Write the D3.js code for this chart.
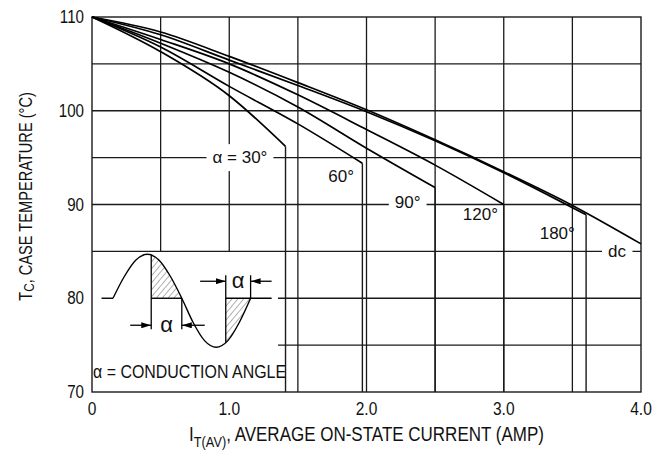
<!DOCTYPE html>
<html>
<head>
<meta charset="utf-8">
<script src="https://cdnjs.cloudflare.com/ajax/libs/d3/7.8.5/d3.min.js"></script>
<style>
  body { margin: 0; background: #fff; }
  text { font-family: "Liberation Sans", Arial, sans-serif; fill: #111; }
</style>
</head>
<body>
<div id="chart"></div>
<script>

// Curves: average on-state current (A) vs max case temperature (°C)
const current30  = [0, 0.5, 1.0, 1.41];
const temp30     = [110, 106.3, 101.6, 96.2];
const current60  = [0, 0.5, 1.0, 1.5, 1.97];
const temp60     = [110, 106.8, 102.6, 98.6, 94.4];
const current90  = [0, 0.5, 1.0, 1.5, 2.0, 2.5];
const temp90     = [110, 107.2, 104.1, 100.4, 96.0, 91.8];
const current120 = [0, 0.5, 1.0, 1.5, 2.0, 2.5, 3.0];
const temp120    = [110, 107.6, 105.0, 101.7, 98.0, 94.2, 90.0];
const current180 = [0, 0.5, 1.0, 1.5, 2.0, 2.5, 3.0, 3.6];
const temp180    = [110, 108.1, 105.4, 102.7, 99.9, 96.8, 93.4, 88.9];
const currentDc  = [0, 0.5, 1.0, 1.5, 2.0, 2.5, 3.0, 3.5, 4.0];
const tempDc     = [110, 108.4, 105.8, 103.0, 100.1, 96.9, 93.5, 89.9, 85.8];

// Curve labels, anchored in data units
const labelText    = ["α = 30°", "60°", "90°", "120°", "180°", "dc"];
const labelCurrent = [1.078, 1.815, 2.30, 2.83, 3.39, 3.825];
const labelTemp    = [95, 93.0, 90.2, 88.9, 86.95, 85];
const labelOnGrid  = [true, false, true, false, false, true];

// Axis ticks and grid
const xTicks = [0, 1, 2, 3, 4];
const xTickLabels = ["0", "1.0", "2.0", "3.0", "4.0"];
const yTicks = [70, 80, 90, 100, 110];
const xGrid = [0.5, 1.0, 1.5, 2.0, 2.5, 3.0, 3.5];
const yGrid = [75, 80, 85, 90, 95, 100, 105];

// Inset (waveform sketch) in phase degrees / relative amplitude
const wavePhase = [0, 30, 60, 90, 120, 150, 180, 210, 240, 270, 300, 330, 360];
const waveValue = [0, 0.5, 0.87, 1, 0.87, 0.5, 0, -0.5, -0.87, -1, -0.87, -0.5, 0];
const firing = [100, 295];        // where conduction starts in each half
const firingValue = [0.985, -0.906];
const insetRight = 1.355, insetTop = 85;

const curves = [
  {x: current30, y: temp30, drop: true},
  {x: current60, y: temp60, drop: true},
  {x: current90, y: temp90, drop: true},
  {x: current120, y: temp120, drop: true},
  {x: current180, y: temp180, drop: true},
  {x: currentDc, y: tempDc, drop: false}
];

const margin = {top: 17, right: 17, bottom: 61, left: 92},
    width = 658 - margin.left - margin.right,
    height = 453 - margin.top - margin.bottom;

const svg = d3.select("#chart")
  .append("svg")
    .attr("width", width + margin.left + margin.right)
    .attr("height", height + margin.top + margin.bottom)
  .append("g")
    .attr("transform", `translate(${margin.left}, ${margin.top})`);

const xScale = d3.scaleLinear().domain([0, 4]).range([0, width]);
const yScale = d3.scaleLinear().domain([70, 110]).range([height, 0]);

// the original uses a narrow typeface: squeeze text horizontally
function at(x, y, k) { return `translate(${x},${y}) scale(${k},1)`; }

const gridG = svg.append("g");
const maskG = svg.append("g");
const curveG = svg.append("g");
const labelG = svg.append("g");

// grid (the inset corner is left empty)
gridG.selectAll(".vgrid")
  .data(xGrid)
  .enter()
  .append("line")
    .attr("x1", d => xScale(d)).attr("x2", d => xScale(d))
    .attr("y1", yScale(110))
    .attr("y2", d => yScale(d < insetRight ? insetTop : 70))
    .attr("stroke", "#1a1a1a").attr("stroke-width", 1.3);

gridG.selectAll(".hgrid")
  .data(yGrid)
  .enter()
  .append("line")
    .attr("y1", d => yScale(d)).attr("y2", d => yScale(d))
    .attr("x1", d => xScale(d < insetTop ? insetRight : 0))
    .attr("x2", xScale(4))
    .attr("stroke", "#1a1a1a").attr("stroke-width", 1.3);

gridG.append("rect")
  .attr("width", width).attr("height", height)
  .attr("fill", "none").attr("stroke", "#1a1a1a").attr("stroke-width", 1.4);

// tick labels
svg.selectAll(".xlab")
  .data(xTicks)
  .enter()
  .append("text")
    .attr("transform", d => at(xScale(d), height + 23, 0.84))
    .attr("text-anchor", "middle")
    .style("font-size", "18.5px")
    .text((d, i) => xTickLabels[i]);

svg.selectAll(".ylab")
  .data(yTicks)
  .enter()
  .append("text")
    .attr("transform", d => at(-8, yScale(d), 0.82))
    .attr("text-anchor", "end")
    .attr("dominant-baseline", "central")
    .style("font-size", "18.5px")
    .text(d => d);

// curves with their vertical drop to the axis
const line = d3.line()
  .x(d => xScale(d[0]))
  .y(d => yScale(d[1]))
  .curve(d3.curveMonotoneX);

curves.forEach(function(c) {
  const pts = c.x.map((v, i) => [v, c.y[i]]);
  curveG.append("path")
    .datum(pts)
    .attr("d", line)
    .attr("fill", "none")
    .attr("stroke", "#000")
    .attr("stroke-width", 1.7);
  if (c.drop) {
    const last = pts[pts.length - 1];
    curveG.append("line")
      .attr("x1", xScale(last[0])).attr("x2", xScale(last[0]))
      .attr("y1", yScale(last[1])).attr("y2", yScale(70))
      .attr("stroke", "#1a1a1a").attr("stroke-width", 1.4);
  }
});

// curve labels, with the grid cut behind the ones that sit on it
labelText.forEach(function(t, i) {
  const lab = labelG.append("text")
    .attr("x", xScale(labelCurrent[i]))
    .attr("y", yScale(labelTemp[i]))
    .attr("text-anchor", "middle")
    .attr("dominant-baseline", "central")
    .style("font-size", "17px")
    .text(t);
  if (labelOnGrid[i]) {
    const bb = lab.node().getBBox();
    maskG.append("rect")
      .attr("x", bb.x - 6).attr("y", bb.y - 4)
      .attr("width", bb.width + 12).attr("height", bb.height + 8)
      .attr("fill", "#fff");
  }
});

// axis titles
const xTitle = svg.append("text")
  .attr("transform", at(width / 2, height + 49, 0.85))
  .attr("text-anchor", "middle")
  .style("font-size", "20px");
xTitle.append("tspan").text("I");
xTitle.append("tspan").attr("dy", 6).style("font-size", "15px").text("T(AV)");
xTitle.append("tspan").attr("dy", -6).text(", AVERAGE ON-STATE CURRENT (AMP)");

const yTitle = svg.append("text")
  .attr("transform", `translate(${-67}, ${height / 2 - 8}) rotate(-90) scale(0.79,1)`)
  .attr("text-anchor", "middle")
  .attr("dominant-baseline", "central")
  .style("font-size", "18.5px");
yTitle.append("tspan").text("T");
yTitle.append("tspan").attr("dy", 3).style("font-size", "15px").text("C");
yTitle.append("tspan").attr("dy", -3).text(", CASE TEMPERATURE (°C)");

// ---- inset: conduction angle sketch ----
const base = yScale(80);
const waveX = d3.scaleLinear().domain([0, 360]).range([21, 158.6]);
const waveY = d3.scaleLinear().domain([-1, 0, 1]).range([base + 49, base, base - 44]);

const inset = svg.append("g");

const defs = d3.select("svg").append("defs");
const hatch = defs.append("pattern")
  .attr("id", "hatch")
  .attr("patternUnits", "userSpaceOnUse")
  .attr("width", 4.5).attr("height", 4.5)
  .attr("patternTransform", "rotate(40)");
hatch.append("line")
  .attr("x1", 0).attr("y1", 0).attr("x2", 0).attr("y2", 4.5)
  .attr("stroke", "#555").attr("stroke-width", 0.9);

defs.append("marker")
  .attr("id", "arrow")
  .attr("viewBox", "0 0 10 6")
  .attr("refX", 10).attr("refY", 3)
  .attr("markerWidth", 10).attr("markerHeight", 6)
  .attr("markerUnits", "userSpaceOnUse")
  .attr("orient", "auto")
  .append("path")
    .attr("d", "M0,0L10,3L0,6Z")
    .attr("fill", "#000");

const wavePts = wavePhase.map((p, i) => [p, waveValue[i]]);

firing.forEach(function(f, k) {
  const end = k === 0 ? 180 : 360;
  defs.append("clipPath").attr("id", "cond" + k)
    .append("rect")
      .attr("x", waveX(f)).attr("y", base - 60)
      .attr("width", waveX(end) - waveX(f)).attr("height", 120);
  inset.append("path")
    .datum(wavePts)
    .attr("clip-path", `url(#cond${k})`)
    .attr("d", d3.area()
      .x(d => waveX(d[0]))
      .y0(base)
      .y1(d => waveY(d[1]))
      .curve(d3.curveMonotoneX))
    .attr("fill", "url(#hatch)");
});

inset.append("path")
  .datum(wavePts)
  .attr("d", d3.line().x(d => waveX(d[0])).y(d => waveY(d[1])).curve(d3.curveMonotoneX))
  .attr("fill", "none").attr("stroke", "#000").attr("stroke-width", 1.4);

// baseline pieces
const baseSegs = [[-30, 0], [firing[0], 180], [firing[1], 415]];
baseSegs.forEach(s => inset.append("line")
  .attr("x1", waveX(s[0])).attr("x2", waveX(s[1]))
  .attr("y1", base).attr("y2", base)
  .attr("stroke", "#000").attr("stroke-width", 1.4));

// extension lines at the conduction edges
const ext = [
  [firing[0], waveY(firingValue[0]), base + 31],
  [180, base, base + 31],
  [firing[1], waveY(firingValue[1]), base - 23],
  [360, base, base - 23]
];
ext.forEach(e => inset.append("line")
  .attr("x1", waveX(e[0])).attr("x2", waveX(e[0]))
  .attr("y1", e[1]).attr("y2", e[2])
  .attr("stroke", "#000").attr("stroke-width", 1.3));

// dimension arrows
const arrows = [
  [45, firing[0], base + 27], [240, 180, base + 27],
  [228, firing[1], base - 17], [415, 360, base - 17]
];
arrows.forEach(a => inset.append("line")
  .attr("x1", waveX(a[0])).attr("x2", waveX(a[1]))
  .attr("y1", a[2]).attr("y2", a[2])
  .attr("stroke", "#000").attr("stroke-width", 1.3)
  .attr("marker-end", "url(#arrow)"));

inset.append("text")
  .attr("x", (waveX(firing[0]) + waveX(180)) / 2).attr("y", base + 26)
  .attr("text-anchor", "middle").attr("dominant-baseline", "central")
  .style("font-size", "22px").text("α");
inset.append("text")
  .attr("x", (waveX(firing[1]) + waveX(360)) / 2).attr("y", base - 18)
  .attr("text-anchor", "middle").attr("dominant-baseline", "central")
  .style("font-size", "22px").text("α");

inset.append("text")
  .attr("transform", at(1, yScale(72.2), 0.84))
  .attr("dominant-baseline", "central")
  .style("font-size", "19px")
  .text("α = CONDUCTION ANGLE");

</script>
</body>
</html>
